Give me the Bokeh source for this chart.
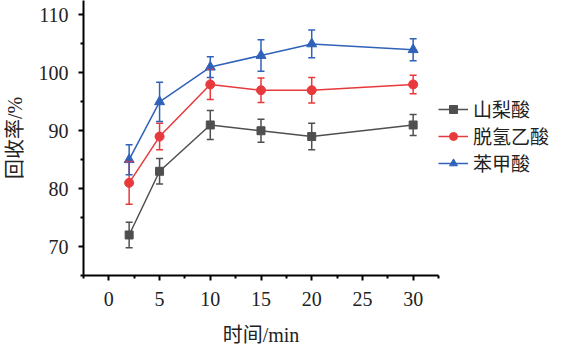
from bokeh.plotting import figure
from bokeh.models import (ColumnDataSource, Whisker, TeeHead, FixedTicker, Range1d,
                          Legend, LegendItem)
from bokeh.embed import file_html
from bokeh.resources import INLINE

# ---- data ----
times = [2, 5, 10, 15, 20, 30]
series_names = ["山梨酸", "脱氢乙酸", "苯甲酸"]
sorbic = [72, 83, 91, 90, 89, 91]
sorbic_err = [2.2, 2.2, 2.5, 2.0, 2.3, 1.8]
dha = [81, 89, 98, 97, 97, 98]
dha_err = [3.7, 2.3, 2.6, 2.1, 2.2, 1.6]
benzoic = [85, 95, 101, 103, 105, 104]
benzoic_err = [2.6, 3.4, 1.8, 2.7, 2.4, 1.9]
x_ticks = [0, 5, 10, 15, 20, 25, 30]
y_ticks = [70, 80, 90, 100, 110]

colors = ["#4f4f4f", "#e8393c", "#2f62b8"]
markers = ["square", "circle", "triangle"]
sizes = [8, 9, 10]

FONT = "'Liberation Serif', 'Noto Sans CJK SC'"

p = figure(frame_width=355, frame_height=275, output_backend="svg",
           toolbar_location=None,
           x_range=Range1d(-2.5, 32.5), y_range=Range1d(65, 112.5),
           min_border_left=82, min_border_right=0, min_border_top=0,
           min_border_bottom=76)
p.outline_line_color = None
p.xgrid.visible = False
p.ygrid.visible = False
p.background_fill_color = "white"
p.border_fill_color = "white"

p.xaxis.ticker = FixedTicker(ticks=x_ticks,
                             minor_ticks=[t - 2.5 for t in x_ticks] + [32.5])
p.yaxis.ticker = FixedTicker(ticks=y_ticks,
                             minor_ticks=[t - 5 for t in y_ticks] + [115])
for ax in (p.xaxis[0], p.yaxis[0]):
    ax.axis_line_width = 2
    ax.axis_line_color = "black"
    ax.major_tick_line_width = 2
    ax.minor_tick_line_width = 2
    ax.major_tick_in = 0
    ax.major_tick_out = 5
    ax.minor_tick_in = 0
    ax.minor_tick_out = 3
    ax.major_label_text_font = FONT
    ax.major_label_text_font_size = "20px"
    ax.major_label_text_color = "#222222"
    ax.axis_label_text_font = FONT
    ax.axis_label_text_font_size = "20px"
    ax.axis_label_text_font_style = "normal"
    ax.axis_label_text_color = "#222222"

p.xaxis.axis_label = "时间/min"
p.yaxis.axis_label = "回收率/%"
p.xaxis.major_label_standoff = 11
p.xaxis.axis_label_standoff = 15
p.yaxis.major_label_standoff = 10
p.yaxis.axis_label_standoff = 10

items = []
for name, vals, errs, c, m, s in zip(series_names, [sorbic, dha, benzoic],
                                     [sorbic_err, dha_err, benzoic_err],
                                     colors, markers, sizes):
    src = ColumnDataSource(dict(x=times, y=vals,
                                upper=[v + e for v, e in zip(vals, errs)],
                                lower=[v - e for v, e in zip(vals, errs)]))
    w = Whisker(base="x", upper="upper", lower="lower", source=src,
                line_color=c, line_width=1.5, level="glyph",
                upper_head=TeeHead(size=7, line_color=c, line_width=1.5),
                lower_head=TeeHead(size=7, line_color=c, line_width=1.5))
    p.add_layout(w)
    ln = p.line("x", "y", source=src, line_color=c, line_width=1.5)
    sc = p.scatter("x", "y", source=src, marker=m, size=s, fill_color=c,
                   line_color=c)
    items.append(LegendItem(label=name, renderers=[ln, sc]))

legend = Legend(items=items, location=(0, 99), padding=0, margin=0,
                spacing=0, glyph_width=30, glyph_height=20, label_height=20,
                label_standoff=5, label_text_font=FONT,
                label_text_font_size="19px", label_text_color="#222222",
                background_fill_alpha=0, border_line_color=None)
p.add_layout(legend, "right")

open("out.html", "w").write(file_html(p, INLINE))
